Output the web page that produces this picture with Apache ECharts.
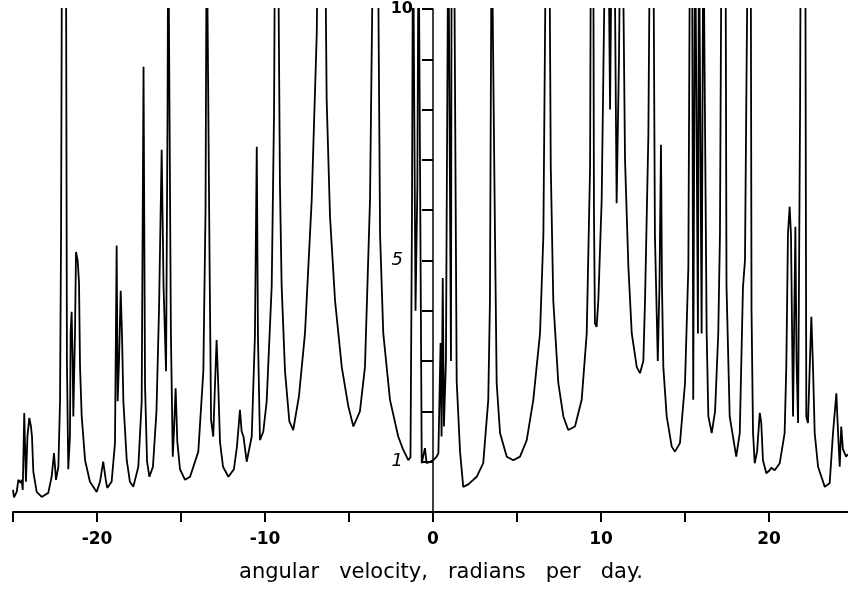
<!DOCTYPE html>
<html>
<head>
<meta charset="utf-8">
<script src="https://cdn.jsdelivr.net/npm/echarts@6/dist/echarts.min.js"></script>
<style>html,body{margin:0;padding:0;background:#fff}#c{width:848px;height:599px}</style>
</head>
<body>
<div id="c"></div>
<script>
// angular velocity (radians per day), negative side
const omegaNeg = [-25.0,-24.94,-24.78,-24.68,-24.54,-24.48,-24.42,-24.33,-24.23,-24.14,-24.03,-23.93,-23.87,-23.79,-23.59,-23.29,-22.90,-22.70,-22.56,-22.44,-22.30,-22.20,-22.14,-22.08,-21.85,-21.79,-21.71,-21.61,-21.57,-21.51,-21.45,-21.41,-21.31,-21.25,-21.15,-21.07,-21.01,-20.91,-20.71,-20.42,-20.02,-19.82,-19.63,-19.46,-19.39,-19.13,-18.93,-18.83,-18.77,-18.69,-18.59,-18.51,-18.43,-18.23,-18.04,-17.84,-17.54,-17.34,-17.23,-17.14,-17.02,-16.88,-16.67,-16.46,-16.31,-16.15,-16.04,-15.89,-15.80,-15.76,-15.65,-15.60,-15.49,-15.42,-15.32,-15.22,-15.06,-14.76,-14.46,-13.97,-13.67,-13.54,-13.47,-13.39,-13.30,-13.21,-13.08,-12.98,-12.88,-12.78,-12.68,-12.50,-12.18,-11.85,-11.67,-11.49,-11.39,-11.28,-11.09,-10.79,-10.60,-10.49,-10.42,-10.30,-10.10,-9.90,-9.60,-9.46,-9.40,-9.23,-9.11,-9.01,-8.81,-8.55,-8.32,-7.98,-7.62,-7.22,-6.92,-6.83,-6.43,-6.33,-6.13,-5.83,-5.43,-5.04,-4.74,-4.35,-4.05,-3.75,-3.55,-3.29,-3.15,-2.96,-2.56,-2.07,-1.79,-1.47,-1.34,-1.25,-1.19,-1.10,-1.04,-0.93,-0.86,-0.77,-0.67,-0.48,-0.38,-0.18];
const powerNeg = [0.44,0.29,0.40,0.64,0.58,0.64,0.44,1.97,0.6,1.5,1.87,1.7,1.5,0.8,0.4,0.3,0.38,0.7,1.17,0.64,0.9,2.2,5.5,12,12,3,0.85,1.5,3.55,3.98,3.0,1.9,3.55,5.17,5.0,4.55,2.88,1.9,1.03,0.6,0.4,0.6,1.0,0.6,0.48,0.6,1.37,5.3,2.2,3.0,4.4,3.5,2.2,1.03,0.6,0.5,0.9,2.2,8.85,2.5,1.0,0.7,0.9,2.0,4.0,7.2,4.5,2.8,8,12,12,3.5,1.1,1.6,2.46,1.4,0.85,0.64,0.7,1.2,2.8,6.0,12,12,5.0,1.83,1.5,2.5,3.42,2.5,1.4,0.9,0.7,0.85,1.3,2.03,1.6,1.5,1.0,1.5,3.5,7.26,3.5,1.43,1.6,2.2,4.5,8,12,12,6.5,4.5,2.8,1.8,1.63,2.3,3.55,6.2,9.5,12,12,8.2,5.87,4.2,2.88,2.1,1.7,2.0,2.88,6.2,12,12,5.5,3.55,2.23,1.5,1.25,1.03,1.09,6,12,12,4,6.5,12,12,0.97,1.27,0.97,1.0];
// positive side
const omegaPos = [0.02,0.22,0.32,0.45,0.51,0.58,0.65,0.77,0.91,1.01,1.07,1.11,1.25,1.41,1.61,1.80,2.10,2.60,2.99,3.29,3.39,3.49,3.59,3.69,3.79,3.99,4.39,4.78,5.18,5.58,5.97,6.37,6.57,6.73,6.92,7.01,7.16,7.46,7.76,8.05,8.45,8.85,9.15,9.35,9.40,9.54,9.58,9.64,9.74,9.84,10.04,10.27,10.43,10.54,10.65,10.79,10.93,11.07,11.16,11.28,11.43,11.63,11.83,12.13,12.32,12.52,12.62,12.82,12.92,13.11,13.21,13.38,13.48,13.57,13.63,13.71,13.91,14.21,14.40,14.70,15.00,15.20,15.30,15.42,15.49,15.60,15.71,15.77,15.83,15.92,15.99,16.09,16.19,16.29,16.39,16.59,16.79,16.98,17.08,17.18,17.41,17.47,17.66,18.05,18.26,18.45,18.57,18.65,18.75,18.91,18.96,19.05,19.15,19.29,19.45,19.54,19.64,19.84,20.04,20.14,20.34,20.64,20.93,21.03,21.13,21.23,21.31,21.43,21.57,21.64,21.73,21.85,21.89,22.16,22.22,22.32,22.52,22.62,22.72,22.92,23.32,23.61,23.81,24.01,24.08,24.21,24.30,24.40,24.59,24.70];
const powerPos = [1.03,1.1,1.17,3.36,1.5,4.65,1.7,3,12,12,3,12,12,2.6,1.2,0.5,0.55,0.7,0.97,2.23,4.2,12,12,5.5,2.56,1.57,1.1,1.03,1.1,1.43,2.23,3.55,5.5,12,12,6.86,4.2,2.56,1.9,1.63,1.7,2.23,3.55,6.86,12,12,6,3.75,3.68,4.2,6.2,12,12,8,12,12,6.14,9,12,12,7,4.87,3.55,2.88,2.76,3.0,4.2,7.5,12,12,5.5,3.0,4.5,7.3,4.5,2.88,1.9,1.3,1.2,1.37,2.56,4.87,12,12,2.23,12,12,3.55,12,12,3.55,12,12,3.55,1.9,1.57,2.0,3.55,5.5,12,12,4.5,1.9,1.1,1.57,4.47,5,8.2,12,12,4.0,1.57,0.97,1.2,1.97,1.77,1.03,0.77,0.83,0.88,0.83,0.97,1.57,2.88,5.55,6.07,5.5,1.9,5.67,3,1.77,8,12,12,1.9,1.77,3.88,2.88,1.57,0.9,0.5,0.57,1.57,2.36,1.8,0.9,1.7,1.25,1.1,1.15];
// axis ticks
const xLabelValues = [-20, -10, 0, 10, 20];
const yLabelValues = [1, 5, 10];
const xTitle = 'angular   velocity,   radians   per   day.';

const omega = omegaNeg.concat(omegaPos);
const power = powerNeg.concat(powerPos);
const pts = omega.map((w, i) => [w, power[i]]);

const GRID_LEFT = 13, GRID_WIDTH = 840;
const chart = echarts.init(document.getElementById('c'), null, {renderer: 'canvas'});
const FONT = '"DejaVu Sans", sans-serif';
chart.setOption({
  animation: false,
  backgroundColor: '#fff',
  grid: {left: GRID_LEFT, top: 9, width: GRID_WIDTH, height: 503, containLabel: false, outerBoundsMode: 'none'},
  xAxis: {
    type: 'value', min: -25, max: 25, interval: 5,
    axisLine: {show: true, onZero: false, lineStyle: {color: '#000', width: 2}},
    axisTick: {show: true, length: 10, lineStyle: {color: '#000', width: 2}},
    axisLabel: {
      margin: 19, color: '#000', fontSize: 17, fontWeight: 'bold', fontFamily: FONT,
      formatter: v => xLabelValues.includes(v) ? String(v) : ''
    },
    splitLine: {show: false}
  },
  yAxis: {
    type: 'value', min: 0, max: 10, interval: 1, position: 'left',
    // place the vertical axis at omega = 0 (middle of the grid)
    offset: -GRID_WIDTH / 2,
    axisLine: {show: true, onZero: false, lineStyle: {color: '#000', width: 1.5}},
    axisTick: {show: true, length: 11, lineStyle: {color: '#000', width: 2}},
    axisLabel: {
      margin: 20, color: '#000', fontFamily: FONT,
      formatter: v => !yLabelValues.includes(v) ? '' : (v === 10 ? '{b|10}' : '{i|' + v + '}'),
      rich: {
        b: {fontSize: 16, fontWeight: 'bold', fontFamily: FONT, color: '#000'},
        i: {fontSize: 18, fontStyle: 'italic', fontFamily: FONT, color: '#000', padding: [0, 10, 0, 0]}
      }
    },
    splitLine: {show: false}
  },
  graphic: [{
    type: 'text', x: 441, y: 573,
    style: {text: xTitle, font: '21px "DejaVu Sans", sans-serif', fill: '#000', align: 'center', verticalAlign: 'middle'}
  }],
  series: [{
    type: 'line', data: pts, showSymbol: false, clip: true,
    lineStyle: {color: '#000', width: 1.8}
  }]
});
</script>
</body>
</html>
